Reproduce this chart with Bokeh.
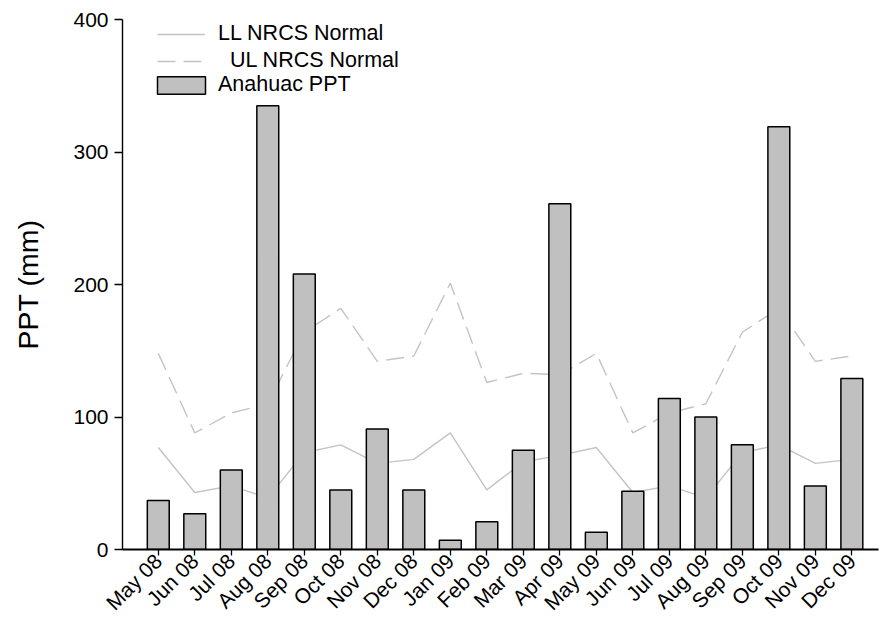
import math
from bokeh.plotting import figure
from bokeh.models import Range1d, FixedTicker, Legend, LegendItem
from bokeh.embed import file_html
from bokeh.resources import INLINE

months = ["May 08", "Jun 08", "Jul 08", "Aug 08", "Sep 08", "Oct 08", "Nov 08", "Dec 08",
          "Jan 09", "Feb 09", "Mar 09", "Apr 09", "May 09", "Jun 09", "Jul 09", "Aug 09",
          "Sep 09", "Oct 09", "Nov 09", "Dec 09"]
anahuac_ppt = [37, 27, 60, 335, 208, 45, 91, 45, 7, 21, 75, 261, 13, 44, 114, 100, 79, 319, 48, 129]
ll_normal = [77, 43, 48, 39, 73, 79, 65, 68, 88, 45, 66, 71, 77, 43, 48, 39, 73, 79, 65, 68]
ul_normal = [148, 88, 103, 110, 164, 182, 142, 146, 201, 126, 133, 132, 148, 88, 103, 110, 164, 182, 142, 146]
y_ticks = [0, 100, 200, 300, 400]

x = list(range(len(months)))
FONT = "Liberation Sans"

p = figure(width=880, height=625, x_range=Range1d(-0.98, 19.73), y_range=Range1d(0, 400),
           output_backend="svg", toolbar_location=None,
           min_border_left=122, min_border_right=2, min_border_top=19, min_border_bottom=76)
p.outline_line_color = None
p.xgrid.visible = False
p.ygrid.visible = False
p.background_fill_color = "white"

ll_r = p.line(x, ll_normal, line_color="#c4c4c4", line_width=1.4)
ul_r = p.line(x, ul_normal, line_color="#c4c4c4", line_width=1.4, line_dash="18 8")
bar_r = p.vbar(x=x, top=anahuac_ppt, width=0.6, bottom=0, fill_color="#c0c0c0",
               line_color="black", line_width=1.5)

xa = p.xaxis[0]
xa.ticker = FixedTicker(ticks=x)
xa.major_label_overrides = {i: m for i, m in enumerate(months)}
xa.major_label_orientation = math.pi / 4
xa.major_tick_out = 6
xa.major_tick_in = 0
xa.minor_tick_line_color = None
xa.axis_line_width = 2.2
xa.major_tick_line_width = 1.3
xa.major_label_text_font = FONT
xa.major_label_text_font_size = "21px"
xa.major_label_text_color = "black"
xa.major_label_standoff = 2

ya = p.yaxis[0]
ya.ticker = FixedTicker(ticks=y_ticks)
ya.major_tick_out = 8
ya.major_tick_in = 0
ya.minor_tick_line_color = None
ya.axis_line_width = 1.4
ya.major_tick_line_width = 1.3
ya.major_label_text_font = FONT
ya.major_label_text_font_size = "21px"
ya.major_label_text_color = "black"
ya.major_label_standoff = 6
ya.axis_label = "PPT (mm)"
ya.axis_label_text_font = FONT
ya.axis_label_text_font_size = "28.5px"
ya.axis_label_text_font_style = "normal"
ya.axis_label_text_color = "black"
ya.axis_label_standoff = 26

common = dict(padding=0, margin=0, border_line_color=None, background_fill_alpha=0,
              label_text_font=FONT, label_text_font_size="21.5px", label_text_color="black",
              label_height=22, spacing=2)

leg_lines = Legend(items=[LegendItem(label="LL NRCS Normal", renderers=[ll_r]),
                          LegendItem(label="\u00a0\u00a0UL NRCS Normal", renderers=[ul_r])],
                   location=(35, 476), glyph_width=48, glyph_height=18, label_standoff=13, **common)
leg_bar = Legend(items=[LegendItem(label="Anahuac PPT", renderers=[bar_r])],
                 location=(29, 452), glyph_width=60, glyph_height=22, label_standoff=7, **common)
p.add_layout(leg_lines)
p.add_layout(leg_bar)

open("out.html", "w").write(file_html(p, INLINE))
